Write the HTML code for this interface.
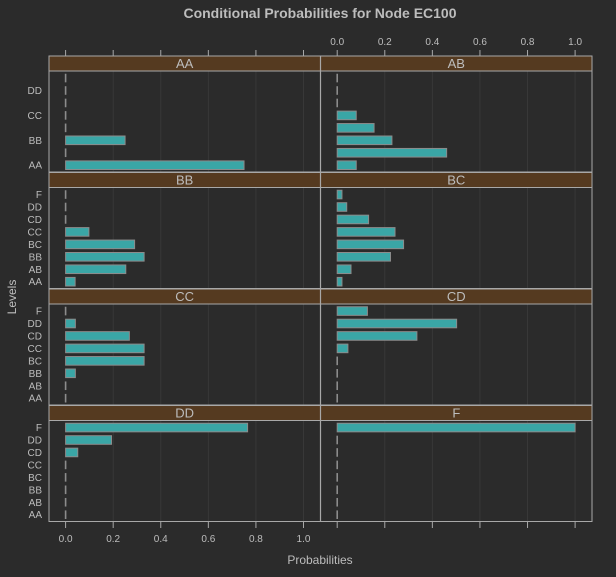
<!DOCTYPE html>
<html><head><meta charset="utf-8"><style>
html,body{margin:0;padding:0;background:#2b2b2b;}
svg{display:block;font-family:"Liberation Sans",sans-serif;}
</style></head><body>
<svg id="chart" width="616" height="577" viewBox="0 0 616 577">
<rect x="0" y="0" width="616" height="577" fill="#2b2b2b"/>
<text x="320" y="18" text-anchor="middle" font-size="14" font-weight="bold" fill="#bdbdbd">Conditional Probabilities for Node EC100</text>
<text x="320" y="564" text-anchor="middle" font-size="12" fill="#bdbdbd">Probabilities</text>
<text x="16" y="297" text-anchor="middle" font-size="12" fill="#bdbdbd" transform="rotate(-90 16 297)">Levels</text>
<g id="plot"></g>
</svg>
<script>
const levels = ["AA","AB","BB","BC","CC","CD","DD","F"];
const panelNames = ["AA","AB","BB","BC","CC","CD","DD","F"];
const valsAA = [0.75,0,0.25,0,0,0,0,0];
const valsAB = [0.08,0.46,0.23,0.155,0.08,0,0,0];
const valsBB = [0.04,0.253,0.33,0.29,0.098,0,0,0];
const valsBC = [0.02,0.058,0.224,0.279,0.243,0.132,0.04,0.02];
const valsCC = [0,0,0.041,0.33,0.33,0.268,0.041,0];
const valsCD = [0,0,0,0,0.045,0.335,0.502,0.127];
const valsDD = [0,0,0,0,0,0.051,0.193,0.765];
const valsF = [0,0,0,0,0,0,0,1.0];
const ticks = [0,0.2,0.4,0.6,0.8,1.0];
const tickLabels = ["0.0","0.2","0.4","0.6","0.8","1.0"];
const allVals = [valsAA,valsAB,valsBB,valsBC,valsCC,valsCD,valsDD,valsF];

const NS="http://www.w3.org/2000/svg";
const g=document.getElementById('plot');
function mk(tag,attrs,parent){const e=document.createElementNS(NS,tag);for(const k in attrs)e.setAttribute(k,attrs[k]);(parent||g).appendChild(e);return e;}
const colX=[49,320.6], colW=271.4;
const rowTop=[56,172.5,289,405.5], stripH=15, panelH=101;
function xs(col,v){return colX[col]+16.6+v*237.9;}
function ys(row,i){const B=rowTop[row]+stripH+panelH;return B-6.8-i*12.45;}

for(let p=0;p<8;p++){
  const row=Math.floor(p/2), col=p%2;
  const top=rowTop[row], x0=colX[col];
  const pg=mk('g',{});
  
  
  ticks.forEach((t,k)=>{ if(k===0) return;
    const l=mk('line',{x1:xs(col,t),x2:xs(col,t),y1:top+stripH,y2:top+stripH+panelH,stroke:'#383838','stroke-width':1},pg);
    
    
  });
  const s=mk('rect',{x:x0,y:top,width:colW,height:stripH,fill:'#553a20',stroke:'#a8a8a8','stroke-width':1},pg);
  
  
  const st=mk('text',{x:x0+colW/2,y:top+12,'text-anchor':'middle','font-size':13,fill:'#bdbdbd'},pg);
  st.textContent=panelNames[p];
  
  
  allVals[p].forEach((v,i)=>{
    const y=ys(row,i);
    const w=xs(col,v)-xs(col,0);
    let b;
    if(w<0.5){
      b=mk('line',{x1:xs(col,0),x2:xs(col,0),y1:y-4.3,y2:y+4.3,stroke:'#8c8c8c','stroke-width':1.6},pg);
    } else {
      b=mk('rect',{x:xs(col,0),y:y-4.3,width:w,height:8.6,fill:'#3aa6a6',stroke:'#8c8c8c','stroke-width':1},pg);
    }
    
    
  });
  const bd=mk('rect',{x:x0,y:top+stripH,width:colW,height:panelH,fill:'none',stroke:'#a8a8a8','stroke-width':1},pg);
  
  
  if(col===0){
    levels.forEach((lv,i)=>{
      if(row===0 && i%2===1) return;
      const t=mk('text',{x:42,y:ys(row,i)+3.5,'text-anchor':'end','font-size':10,fill:'#bdbdbd'},pg);
      t.textContent=lv;
      
      
    });
  }
}
for(let col=0;col<2;col++){
  ticks.forEach((t,k)=>{
    const x=xs(col,t);
    const a=mk('line',{x1:x,x2:x,y1:50,y2:56,stroke:'#a8a8a8','stroke-width':1});
    
    
    const b=mk('line',{x1:x,x2:x,y1:522,y2:528,stroke:'#a8a8a8','stroke-width':1});
    
    
    if(col===1){
      const tl=mk('text',{x:x,y:45,'text-anchor':'middle','font-size':10,fill:'#bdbdbd'});
      tl.textContent=tickLabels[k];
      
      
    } else {
      const tl=mk('text',{x:x,y:542,'text-anchor':'middle','font-size':10,fill:'#bdbdbd'});
      tl.textContent=tickLabels[k];
      
      
    }
  });
}
</script>
</body></html>
